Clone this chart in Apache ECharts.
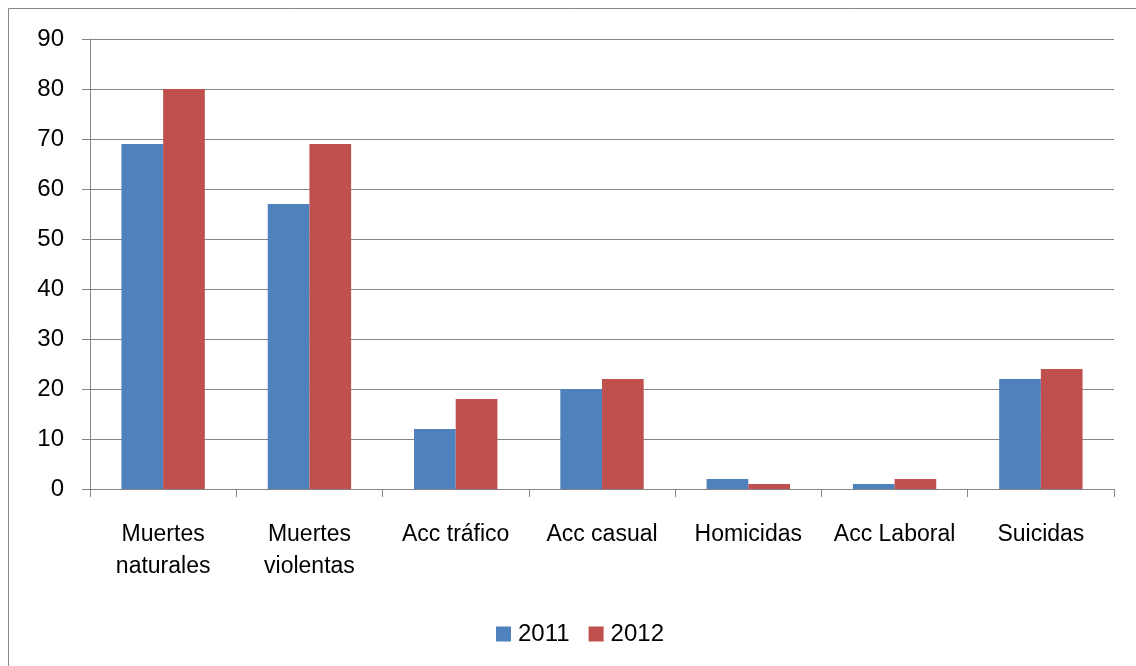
<!DOCTYPE html>
<html>
<head>
<meta charset="utf-8">
<script src="https://cdn.jsdelivr.net/npm/echarts@6/dist/echarts.min.js"></script>
<style>
  html, body { margin: 0; padding: 0; background: #fff; }
  #chart { width: 1136px; height: 666px; }
</style>
</head>
<body>
<div id="chart"></div>
<script>
const categories = ['Muertes\nnaturales', 'Muertes\nviolentas', 'Acc tráfico', 'Acc casual', 'Homicidas', 'Acc Laboral', 'Suicidas']
const seriesNames = ['2011', '2012']
const values2011 = [69, 57, 12, 20, 2, 1, 22]
const values2012 = [80, 69, 18, 22, 1, 2, 24]
const colors = ['#4F81BD', '#C0504D']

const font = 'Liberation Sans, Arial, sans-serif'
const chart = echarts.init(document.getElementById('chart'))

chart.setOption({
  animation: false,
  textStyle: { fontFamily: font },
  graphic: [{
    type: 'rect',
    shape: { x: 8.5, y: 8.5, width: 1140, height: 670 },
    style: { fill: 'none', stroke: '#868686', lineWidth: 1 },
    silent: true
  }],
  grid: { left: 90, right: 22, top: 39, bottom: 177 },
  legend: {
    top: 617,
    left: 491,
    itemWidth: 15,
    itemHeight: 15,
    itemGap: 19,
    icon: 'rect',
    textStyle: { fontSize: 24, color: '#000', fontFamily: font, padding: [0, 0, 0, 2] }
  },
  xAxis: {
    type: 'category',
    data: categories,
    axisLine: { lineStyle: { color: '#868686', width: 1 } },
    axisTick: { show: true, length: 8, lineStyle: { color: '#868686' } },
    axisLabel: { color: '#000', fontSize: 23, lineHeight: 32, margin: 30, interval: 0 }
  },
  yAxis: {
    type: 'value',
    min: 0,
    max: 90,
    interval: 10,
    axisLine: { show: true, lineStyle: { color: '#868686' } },
    axisTick: { show: true, length: 8, lineStyle: { color: '#868686' } },
    axisLabel: { color: '#000', fontSize: 24, margin: 26 },
    splitLine: { lineStyle: { color: '#868686', width: 1 } }
  },
  series: [
    {
      name: seriesNames[0],
      type: 'bar',
      data: values2011,
      barGap: '0%',
      barCategoryGap: '43%',
      itemStyle: { color: colors[0] }
    },
    {
      name: seriesNames[1],
      type: 'bar',
      data: values2012,
      itemStyle: { color: colors[1] }
    }
  ]
})
</script>
</body>
</html>
